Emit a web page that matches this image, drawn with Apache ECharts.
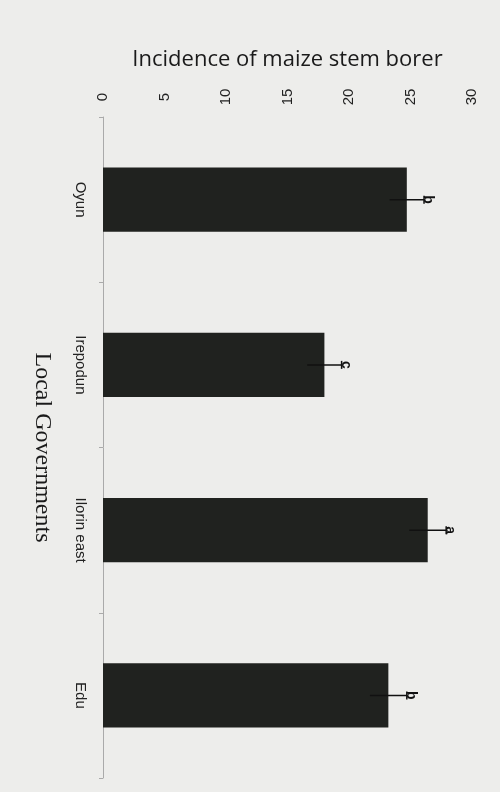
<!DOCTYPE html>
<html>
<head>
<meta charset="utf-8">
<script src="https://cdn.jsdelivr.net/npm/echarts@6/dist/echarts.min.js"></script>
<style>
  html, body { margin: 0; padding: 0; background: #ededeb; }
  #main { width: 500px; height: 792px; }
</style>
</head>
<body>
<div id="main"></div>
<script>
const governments = ['Oyun', 'Irepodun', 'Ilorin east', 'Edu']
const incidence = [24.7, 18.0, 26.4, 23.2]
const stdErr = [1.4, 1.4, 1.5, 1.5]
const letters = ['b', 'c', 'a', 'b']
const valueTicks = [0, 5, 10, 15, 20, 25, 30]

var myChart = echarts.init(document.getElementById('main'))

// error bar + significance letter, drawn horizontally (chart is turned 90deg)
function renderErrorBar (params, api) {
  const i = api.value(0)
  const v = api.value(1)
  const e = api.value(2)
  const lo = api.coord([v - e, i])
  const hi = api.coord([v + e, i])
  const cap = 4
  return {
    type: 'group',
    children: [
      {
        type: 'line',
        shape: { x1: lo[0], y1: lo[1], x2: hi[0], y2: hi[1] },
        style: { stroke: '#111', lineWidth: 1.5 }
      },
      {
        type: 'line',
        shape: { x1: hi[0], y1: hi[1] - cap, x2: hi[0], y2: hi[1] + cap },
        style: { stroke: '#111', lineWidth: 1.5 }
      },
      {
        type: 'text',
        x: hi[0] + 4,
        y: hi[1],
        rotation: -Math.PI / 2,
        style: {
          text: letters[i],
          fontSize: 14,
          fontWeight: 'bold',
          fontFamily: 'Liberation Sans',
          fill: '#111',
          align: 'center',
          verticalAlign: 'middle'
        }
      }
    ]
  }
}

var option = {
  backgroundColor: '#ededeb',
  animation: false,
  grid: {
    left: 103,
    right: 28,
    top: 117,
    bottom: 14
  },
  xAxis: {
    type: 'value',
    position: 'top',
    min: valueTicks[0],
    max: valueTicks[valueTicks.length - 1],
    interval: 5,
    name: 'Incidence of maize stem borer',
    nameLocation: 'middle',
    nameGap: 46,
    nameTextStyle: {
      fontFamily: 'Open Sans',
      fontSize: 22,
      color: '#1a1a1a'
    },
    axisLine: { show: false },
    axisTick: { show: false },
    splitLine: { show: false },
    axisLabel: {
      rotate: -90,
      margin: 20,
      align: 'center',
      verticalAlign: 'middle',
      fontFamily: 'Liberation Sans',
      fontSize: 15,
      color: '#222'
    }
  },
  yAxis: {
    type: 'category',
    inverse: true,
    data: governments,
    name: 'Local Governments',
    nameLocation: 'middle',
    nameRotate: -90,
    nameGap: 49,
    nameTextStyle: {
      fontFamily: 'Liberation Serif',
      fontSize: 24,
      color: '#1a1a1a'
    },
    axisLine: { show: true, lineStyle: { color: '#aaa', width: 1 } },
    axisTick: { show: true, length: 4, lineStyle: { color: '#aaa' } },
    axisLabel: {
      rotate: -90,
      margin: 23,
      align: 'center',
      verticalAlign: 'middle',
      fontFamily: 'Liberation Sans',
      fontSize: 15,
      color: '#222'
    }
  },
  series: [
    {
      type: 'bar',
      data: incidence,
      barWidth: '39%',
      itemStyle: { color: '#20221f' }
    },
    {
      type: 'custom',
      renderItem: renderErrorBar,
      data: incidence.map((v, i) => [i, v, stdErr[i]]),
      encode: { x: 1, y: 0 },
      z: 3
    }
  ]
}

myChart.setOption(option)
</script>
</body>
</html>
